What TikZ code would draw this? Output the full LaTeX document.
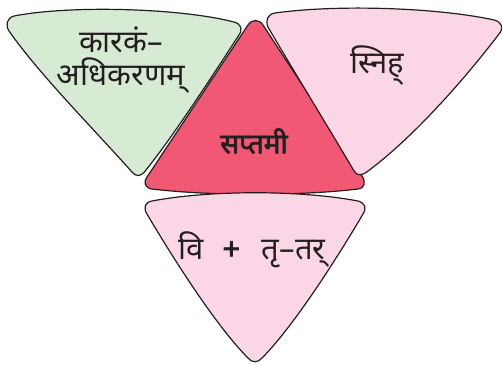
\documentclass[tikz,border=0pt]{standalone}
\usepackage{fontspec}
\newfontfamily\deva[Script=Devanagari]{Noto Sans}
\newfontfamily\devab[Script=Devanagari,FakeBold=2.5]{Noto Sans}
\definecolor{lgreen}{RGB}{214,234,212}
\definecolor{lpink}{RGB}{250,214,230}
\definecolor{dred}{RGB}{240,88,115}
\definecolor{ink}{RGB}{35,31,32}
\tikzset{
  petal/.style={draw=ink, line width=1.2pt, line join=round},
  lbl/.style={text=ink, font=\deva\fontsize{31}{33}\selectfont, align=center, inner sep=0pt}
}
\begin{document}
\begin{tikzpicture}[x=1pt,y=-1pt]
\useasboundingbox (0,0) rectangle (502,364);
% red centre
\path[petal, fill=dred] (248,25) .. controls (252,19) and (259,19) .. (263,25)
  -- (362,176) .. controls (366,182) and (365,188) .. (358,189)
  .. controls (300,196) and (210,196) .. (152,189)
  .. controls (145,188) and (143,182) .. (147,177) -- cycle;
% green
\path[petal, fill=lgreen] (14,16) .. controls (70,5) and (180,8) .. (234,22)
  .. controls (241,24) and (243,29) .. (239,35)
  .. controls (200,95) and (170,140) .. (146,170)
  .. controls (141,177) and (136,177) .. (132,172)
  .. controls (90,125) and (40,75) .. (9,31)
  .. controls (5,25) and (7,18) .. (14,16) -- cycle;
% pink right
\path[petal, fill=lpink] (275,13) .. controls (340,4) and (440,8) .. (494,20)
  .. controls (502,22) and (504,28) .. (499,34)
  .. controls (460,85) and (410,140) .. (368,171)
  .. controls (362,176) and (357,176) .. (354,171)
  .. controls (330,130) and (290,65) .. (268,27)
  .. controls (265,20) and (268,14) .. (275,13) -- cycle;
% pink bottom
\path[petal, fill=lpink] (152,201) .. controls (210,190) and (300,190) .. (358,201)
  .. controls (365,203) and (367,208) .. (363,214)
  .. controls (330,270) and (290,330) .. (262,358)
  .. controls (258,363) and (252,363) .. (248,358)
  .. controls (220,330) and (180,270) .. (147,214)
  .. controls (143,208) and (145,202) .. (152,201) -- cycle;
\node[lbl] (karaka) at (121,60) {कारकं–\\अधिकरणम्};
\node[lbl] (snih) at (377,66) {स्निह्};
\node[lbl, font=\devab\fontsize{28}{30}\selectfont] (saptami) at (254,141) {सप्तमी};
\node[lbl] (vi) at (252,250) {वि\hspace{0.6em}{\devab+}\hspace{0.7em}तृ–तर्};
\end{tikzpicture}
\end{document}
